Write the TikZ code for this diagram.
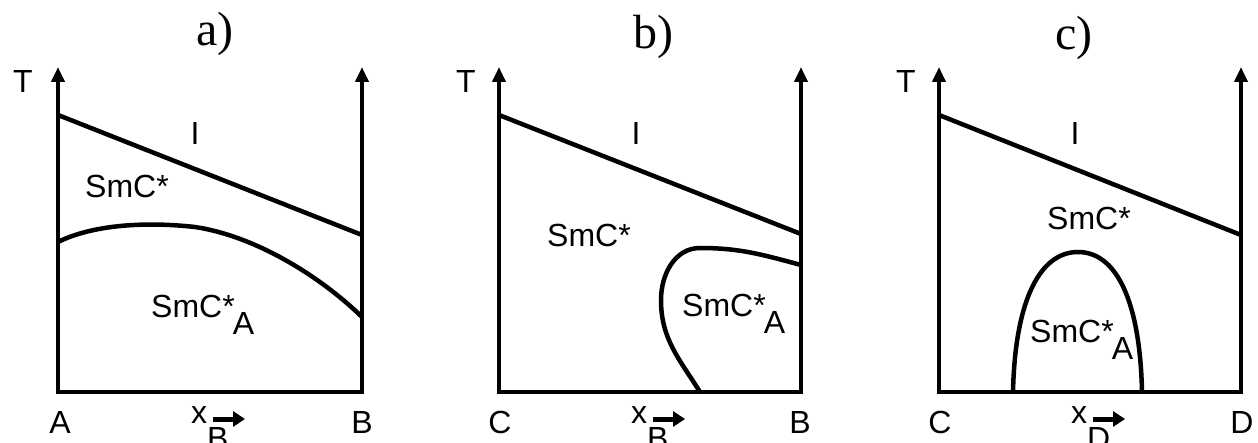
\documentclass[tikz,border=0pt]{standalone}
\usepackage{fontspec}
\setmainfont{Liberation Sans}
\newfontfamily\titlefont{Liberation Serif}
\usetikzlibrary{arrows.meta}
\begin{document}
\begin{tikzpicture}[x=1pt,y=-1pt,
  axis/.style={line width=4.5pt, line join=miter, {Triangle[width=13pt,length=15pt]}-{Triangle[width=13pt,length=15pt]}},
  curve/.style={line width=4.5pt},
  lbl/.style={font=\fontsize{32}{38}\selectfont, inner sep=0pt},
  ttl/.style={font=\titlefont\fontsize{48}{54}\selectfont, inner sep=0pt},
  dirarrow/.style={line width=5pt, -{Triangle[width=15pt,length=12pt]}},
]
\useasboundingbox (0,0) rectangle (1258,443);

% ---------- panel a ----------
\coordinate (aTL) at (58,67); \coordinate (aBL) at (58,392);
\coordinate (aBR) at (362,392); \coordinate (aTR) at (362,67);
\draw[axis] (aTL) -- (aBL) -- (aBR) -- (aTR);
\coordinate (aI1) at (58,115); \coordinate (aI2) at (362,235);
\draw[curve] (aI1) -- (aI2);
\coordinate (aC1) at (58,242); \coordinate (aC2) at (195,227); \coordinate (aC3) at (362,317);
\draw[curve] (aC1) .. controls (90,226) and (140,221) .. (aC2) .. controls (255,236) and (320,276) .. (aC3);
\node[ttl, anchor=base] (ta) at (215,46) {a)};
\node[lbl, anchor=base] (Ta) at (23,93) {T};
\node[lbl, anchor=base] (Ia) at (195,145) {I};
\node[lbl, anchor=base west] (sa) at (85,198) {SmC*};
\node[lbl, anchor=base west] (saa) at (151,318) {SmC*\kern-2pt\raisebox{-17pt}{A}};
\node[lbl, anchor=base] (Aa) at (60,433) {A};
\node[lbl, anchor=base] (Ba) at (362,433) {B};
\node[lbl, anchor=base west] (xa) at (191,423) {x\raisebox{-26pt}{B}};
\coordinate (xa1) at (213,419); \coordinate (xa2) at (245,419);
\draw[dirarrow] (xa1) -- (xa2);

% ---------- panel b ----------
\coordinate (bTL) at (499,67); \coordinate (bBL) at (499,392);
\coordinate (bBR) at (801,392); \coordinate (bTR) at (801,67);
\draw[axis] (bTL) -- (bBL) -- (bBR) -- (bTR);
\coordinate (bI1) at (499,115); \coordinate (bI2) at (801,234);
\draw[curve] (bI1) -- (bI2);
\coordinate (bC1) at (801,265); \coordinate (bC2) at (700,248);
\coordinate (bC3) at (661,300); \coordinate (bC4) at (700,392);
\draw[curve] (bC1) to[out=165,in=0] (bC2) to[out=180,in=90] (bC3) to[out=-90,in=122] (bC4);
\node[ttl, anchor=base] (tb) at (653,49) {b)};
\node[lbl, anchor=base] (Tb) at (466,93) {T};
\node[lbl, anchor=base] (Ib) at (636,145) {I};
\node[lbl, anchor=base west] (sb) at (547,247) {SmC*};
\node[lbl, anchor=base west] (sbb) at (682,317) {SmC*\kern-2pt\raisebox{-17pt}{A}};
\node[lbl, anchor=base] (Cb) at (500,433) {C};
\node[lbl, anchor=base] (Bb) at (800,433) {B};
\node[lbl, anchor=base west] (xb) at (631,423) {x\raisebox{-26pt}{B}};
\coordinate (xb1) at (653,419); \coordinate (xb2) at (685,419);
\draw[dirarrow] (xb1) -- (xb2);

% ---------- panel c ----------
\coordinate (cTL) at (939,67); \coordinate (cBL) at (939,392);
\coordinate (cBR) at (1241,392); \coordinate (cTR) at (1241,67);
\draw[axis] (cTL) -- (cBL) -- (cBR) -- (cTR);
\coordinate (cI1) at (939,115); \coordinate (cI2) at (1241,235);
\draw[curve] (cI1) -- (cI2);
\coordinate (cD1) at (1013,392); \coordinate (cD2) at (1078,252); \coordinate (cD3) at (1142,392);
\draw[curve] (cD1) .. controls (1015,300) and (1040,252) .. (cD2) .. controls (1116,252) and (1140,300) .. (cD3);
\node[ttl, anchor=base] (tc) at (1074,50) {c)};
\node[lbl, anchor=base] (Tc) at (906,93) {T};
\node[lbl, anchor=base] (Ic) at (1075,145) {I};
\node[lbl, anchor=base west] (sc) at (1047,230) {SmC*};
\node[lbl, anchor=base west] (scc) at (1030,343) {SmC*\kern-2pt\raisebox{-17pt}{A}};
\node[lbl, anchor=base] (Cc) at (940,433) {C};
\node[lbl, anchor=base] (Dc) at (1242,433) {D};
\node[lbl, anchor=base west] (xc) at (1071,423) {x\raisebox{-26pt}{D}};
\coordinate (xc1) at (1093,419); \coordinate (xc2) at (1125,419);
\draw[dirarrow] (xc1) -- (xc2);
\end{tikzpicture}
\end{document}
